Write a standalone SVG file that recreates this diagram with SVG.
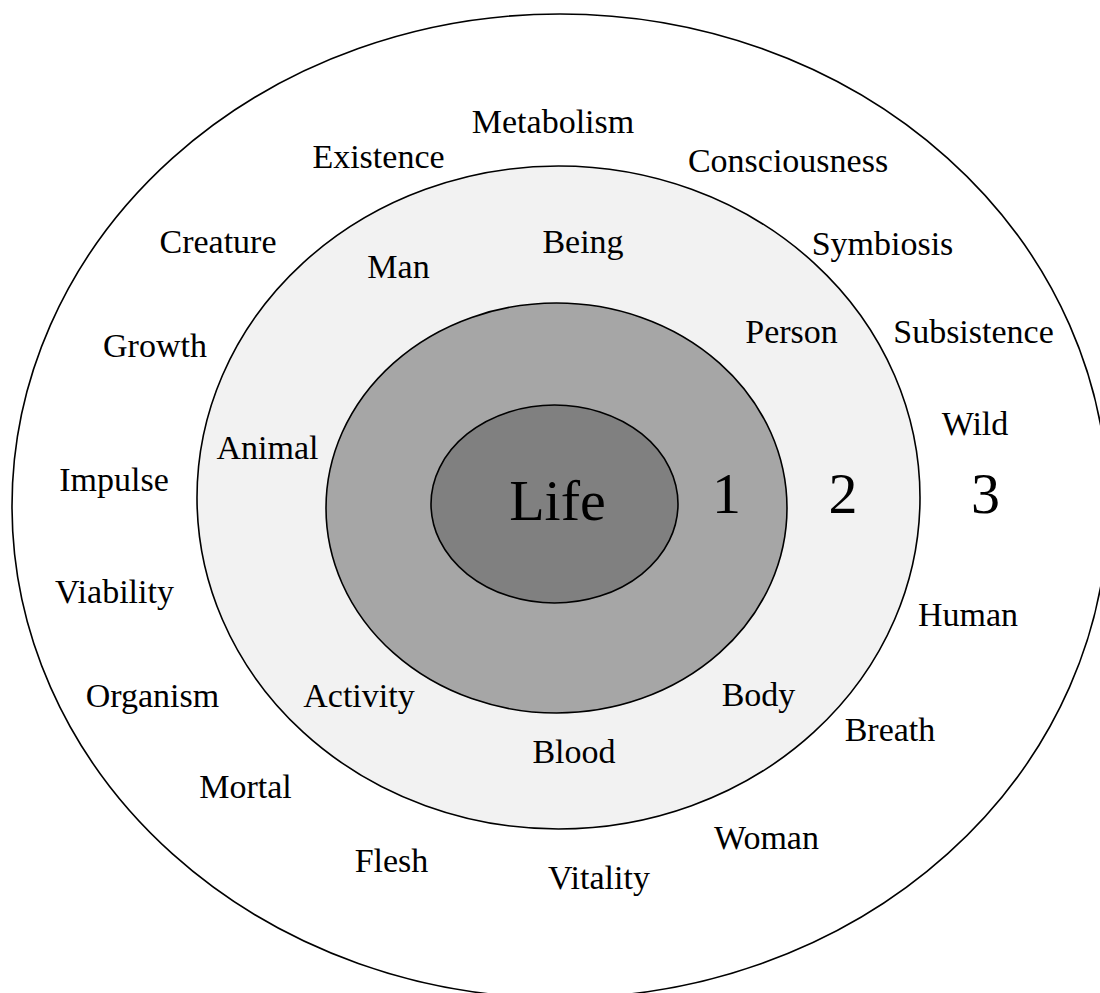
<svg xmlns="http://www.w3.org/2000/svg" width="1100" height="993" viewBox="0 0 1100 993">
  <style>
    .ring { stroke: #000; stroke-width: 1.6; }
    .lbl { font-family: "Liberation Serif", "Times New Roman", serif; font-size: 34px; fill: #000; text-anchor: middle; }
    .big { font-family: "Liberation Serif", "Times New Roman", serif; font-size: 58px; fill: #000; text-anchor: middle; }
  </style>
  <rect width="1100" height="993" fill="#fff"/>

  <!-- concentric rings, outermost first -->
  <g id="ring-3"><ellipse class="ring" cx="560" cy="506" rx="548" ry="492" fill="#fff"/></g>
  <g id="ring-2"><ellipse class="ring" cx="558.5" cy="497.5" rx="361.5" ry="331.5" fill="#f2f2f2"/></g>
  <g id="ring-1"><ellipse class="ring" cx="556.5" cy="508" rx="230.5" ry="205" fill="#a6a6a6"/></g>
  <g id="core"><ellipse class="ring" cx="554.5" cy="504" rx="123.5" ry="99" fill="#808080"/>
    <text class="big" x="557.5" y="520">Life</text></g>

  <!-- ring numbers -->
  <g id="num-1"><text class="big" x="726.5" y="513">1</text></g>
  <g id="num-2"><text class="big" x="843" y="513">2</text></g>
  <g id="num-3"><text class="big" x="985.5" y="513">3</text></g>

  <!-- ring 2 words -->
  <g id="w-man"><text class="lbl" x="398.5" y="278">Man</text></g>
  <g id="w-being"><text class="lbl" x="583" y="253">Being</text></g>
  <g id="w-person"><text class="lbl" x="791.5" y="343">Person</text></g>
  <g id="w-animal"><text class="lbl" x="267.5" y="459">Animal</text></g>
  <g id="w-activity"><text class="lbl" x="359" y="707">Activity</text></g>
  <g id="w-body"><text class="lbl" x="758.5" y="706">Body</text></g>
  <g id="w-blood"><text class="lbl" x="574" y="763">Blood</text></g>

  <!-- ring 3 words -->
  <g id="w-metabolism"><text class="lbl" x="553" y="133">Metabolism</text></g>
  <g id="w-existence"><text class="lbl" x="378.5" y="168">Existence</text></g>
  <g id="w-consciousness"><text class="lbl" x="788" y="172">Consciousness</text></g>
  <g id="w-creature"><text class="lbl" x="218" y="253">Creature</text></g>
  <g id="w-symbiosis"><text class="lbl" x="882.5" y="255">Symbiosis</text></g>
  <g id="w-growth"><text class="lbl" x="155" y="357">Growth</text></g>
  <g id="w-subsistence"><text class="lbl" x="973.5" y="343">Subsistence</text></g>
  <g id="w-wild"><text class="lbl" x="975" y="435">Wild</text></g>
  <g id="w-impulse"><text class="lbl" x="114" y="491">Impulse</text></g>
  <g id="w-viability"><text class="lbl" x="114.5" y="603">Viability</text></g>
  <g id="w-human"><text class="lbl" x="968" y="626">Human</text></g>
  <g id="w-organism"><text class="lbl" x="152.5" y="707">Organism</text></g>
  <g id="w-breath"><text class="lbl" x="890" y="741">Breath</text></g>
  <g id="w-mortal"><text class="lbl" x="245.5" y="798">Mortal</text></g>
  <g id="w-woman"><text class="lbl" x="766.5" y="849">Woman</text></g>
  <g id="w-flesh"><text class="lbl" x="391.5" y="872">Flesh</text></g>
  <g id="w-vitality"><text class="lbl" x="599" y="889">Vitality</text></g>
</svg>
